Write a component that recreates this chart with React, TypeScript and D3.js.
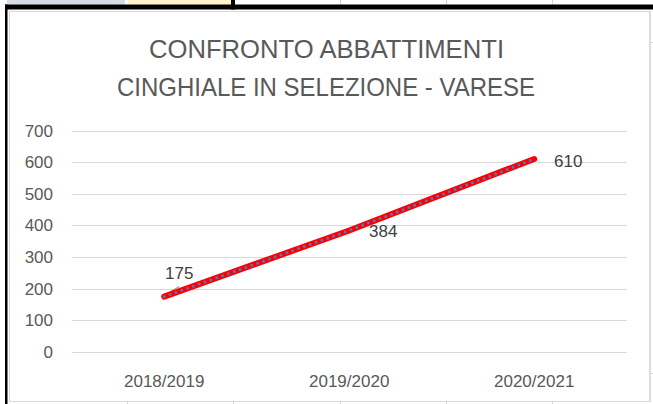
import React from "react";
import * as d3 from "d3";

const categories = ["2018/2019", "2019/2020", "2020/2021"];
const values = [175, 384, 610];
const yTicks = [0, 100, 200, 300, 400, 500, 600, 700];
const titleLines = ["CONFRONTO ABBATTIMENTI", "CINGHIALE IN SELEZIONE - VARESE"];

const W = 653;
const H = 404;

export default function App() {
  const x = d3.scaleBand<string>().domain(categories).range([71.7, 626.7]);
  const y = d3.scaleLinear().domain([0, 700]).range([352, 130.5]);
  const cx = (c: string) => (x(c) as number) + x.bandwidth() / 2;
  const line = d3
    .line<number>()
    .x((_, i) => cx(categories[i]))
    .y((d) => y(d));
  const path = line(values) || "";
  const font = "'Liberation Sans', Arial, sans-serif";

  const labelOffsets = [
    { dx: 15, dy: -18 },
    { dx: 34, dy: 7 },
    { dx: 34, dy: 8 },
  ];

  const titleLayout = [
    { x: 326.5, y: 58.3, len: 355 },
    { x: 326, y: 95.7, len: 418 },
  ];

  return (
    <svg
      width={W}
      height={H}
      style={{ position: "absolute", left: 0, top: 0, background: "#fff" }}
      fontFamily={font}
    >
      {/* spreadsheet header cells */}
      <rect x={7} y={0} width={118} height={4.5} fill="#d6dce4" />
      <rect x={128} y={0} width={103} height={4.5} fill="#fff2cc" />
      <rect x={231} y={0} width={4} height={9.5} fill="#000" />
      {[340, 446, 552].map((v) => (
        <line key={v} x1={v + 0.5} x2={v + 0.5} y1={0} y2={5} stroke="#d4d4d4" />
      ))}
      <rect x={5} y={4.5} width={648} height={5} fill="#000" />
      <rect x={5} y={4.5} width={2.5} height={H} fill="#000" />
      {[127, 233, 340, 446, 552].map((v) => (
        <line key={"b" + v} x1={v + 0.5} x2={v + 0.5} y1={402} y2={404} stroke="#d4d4d4" />
      ))}
      <line x1={651} x2={653} y1={42.5} y2={42.5} stroke="#d4d4d4" />
      <line x1={651} x2={653} y1={373.5} y2={373.5} stroke="#d4d4d4" />

      {/* chart area */}
      <rect x={9.5} y={11.5} width={640} height={390} fill="#fff" stroke="#d9d9d9" />
      <line x1={650.5} x2={650.5} y1={11} y2={402} stroke="#e0e0e0" />

      {/* title */}
      {titleLines.map((t, i) => (
        <text
          key={t}
          x={titleLayout[i].x}
          y={titleLayout[i].y}
          textAnchor="middle"
          fontSize={26.5}
          fill="#595959"
          textLength={titleLayout[i].len}
          lengthAdjust="spacingAndGlyphs"
        >
          {t}
        </text>
      ))}

      {/* gridlines and y labels */}
      {yTicks.map((t) => (
        <g key={t}>
          <line
            x1={71.7}
            x2={626.7}
            y1={Math.round(y(t)) + 0.5}
            y2={Math.round(y(t)) + 0.5}
            stroke="#d9d9d9"
            strokeWidth={1}
          />
          <text x={53} y={y(t) + 6} textAnchor="end" fontSize={17} fill="#595959">
            {t}
          </text>
        </g>
      ))}

      {/* x labels */}
      {categories.map((c) => (
        <text key={c} x={cx(c)} y={387} textAnchor="middle" fontSize={17} fill="#595959">
          {c}
        </text>
      ))}

      {/* leader line for first label */}
      <line
        x1={cx(categories[0])}
        y1={y(values[0]) - 1}
        x2={cx(categories[0]) + 15}
        y2={y(values[0]) - 10}
        stroke="#a6a6a6"
        strokeWidth={1.5}
      />

      {/* series */}
      <path d={path} fill="none" stroke="#ff0000" strokeWidth={6} strokeLinecap="round" strokeLinejoin="round" />
      <path
        d={path}
        fill="none"
        stroke="#4a78d0"
        strokeWidth={3}
        strokeLinecap="round"
        strokeDasharray="0 6.2"
      />

      {/* data labels */}
      {values.map((v, i) => (
        <text
          key={i}
          x={cx(categories[i]) + labelOffsets[i].dx}
          y={y(v) + labelOffsets[i].dy}
          textAnchor="middle"
          fontSize={17}
          fill="#404040"
        >
          {v}
        </text>
      ))}
    </svg>
  );
}
